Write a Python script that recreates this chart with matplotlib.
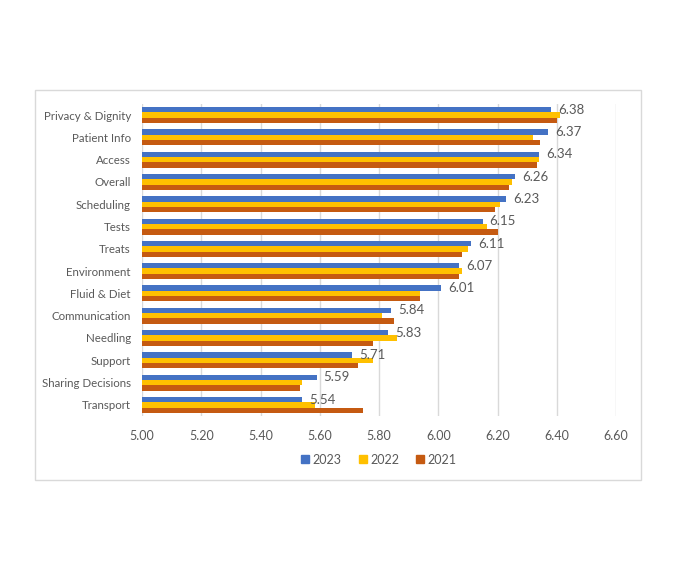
import numpy as np
import matplotlib
matplotlib.use("Agg")
import matplotlib.pyplot as plt
import matplotlib.patches as mpatches
from matplotlib.lines import Line2D

plt.rcParams["font.family"] = ["Lato", "DejaVu Sans"]

# ── Data ───────────────────────────────────────────────
categories = ["Privacy & Dignity", "Patient Info", "Access", "Overall", "Scheduling",
              "Tests", "Treats", "Environment", "Fluid & Diet", "Communication",
              "Needling", "Support", "Sharing Decisions", "Transport"]

y2023 = [6.38, 6.37, 6.34, 6.26, 6.23, 6.15, 6.11, 6.07, 6.01, 5.84, 5.83, 5.71, 5.59, 5.54]
y2022 = [6.41, 6.32, 6.34, 6.25, 6.21, 6.165, 6.10, 6.08, 5.94, 5.81, 5.86, 5.78, 5.54, 5.585]
y2021 = [6.40, 6.345, 6.335, 6.24, 6.19, 6.20, 6.08, 6.07, 5.94, 5.85, 5.78, 5.73, 5.535, 5.745]

series = [("2023", y2023, "#4472C4"),
          ("2022", y2022, "#FFC000"),
          ("2021", y2021, "#C55A11")]

xticks = [5.00, 5.20, 5.40, 5.60, 5.80, 6.00, 6.20, 6.40, 6.60]

TEXT = "#595959"
GRID = "#d9d9d9"

fig = plt.figure(figsize=(7.0, 5.86), dpi=100)
ax = fig.add_axes([142/700, 1 - 416/586, (616 - 142)/700, (416 - 104)/586])

# outer chart border
fig.patches.append(mpatches.Rectangle((35/700, 1 - 480/586), (641 - 35)/700, (480 - 90)/586,
                                      transform=fig.transFigure, fill=False,
                                      edgecolor=GRID, linewidth=1.0))

y = np.arange(len(categories))
h = 0.24
for i, (name, vals, col) in enumerate(series):
    ax.barh(y + (i - 1) * h, np.array(vals) - 5.0, h, left=5.0, color=col,
            label=name, zorder=2)

# data labels for 2023
for yi, v in zip(y, y2023):
    ax.annotate(f"{v:.2f}", xy=(v, yi - h), xytext=(5, 0), textcoords="offset points",
                ha="left", va="center", fontsize=9.5, color=TEXT, zorder=3)

ax.set_xlim(5.0, 6.6)
ax.set_ylim(len(categories) - 0.5, -0.5)
ax.set_xticks(xticks)
ax.set_xticklabels([f"{t:.2f}" for t in xticks])
ax.set_yticks(y)
ax.set_yticklabels(categories)
ax.tick_params(axis="both", length=0, labelcolor=TEXT)
ax.tick_params(axis="x", pad=10, labelsize=9)
ax.tick_params(axis="y", pad=8, labelsize=8.3)
ax.grid(axis="x", color=GRID, linewidth=1.0, zorder=0)
for s in ax.spines.values():
    s.set_visible(False)

handles = [Line2D([], [], marker="s", linestyle="none", markersize=5.5,
                  markerfacecolor=col, markeredgecolor=col, label=name)
           for name, _, col in series]
ax.legend(handles=handles, loc="center", bbox_to_anchor=(0.5, -0.14), ncol=3,
          frameon=False, fontsize=9, labelcolor=TEXT, handlelength=0.6,
          handletextpad=0.3, columnspacing=1.4)

fig.savefig("out.png", dpi=100)
